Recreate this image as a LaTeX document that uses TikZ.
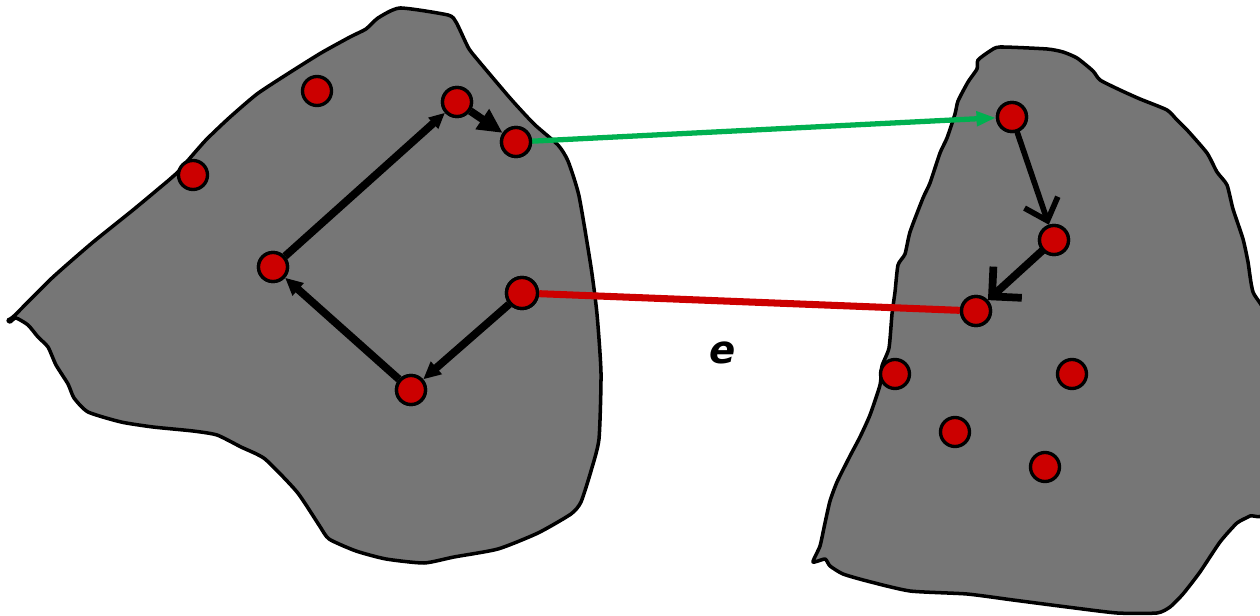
\documentclass[tikz,border=0pt]{standalone}
\usepackage{fontspec}
\newfontfamily\labelfont{DejaVu Sans}
\usetikzlibrary{arrows.meta}
\definecolor{blobgray}{RGB}{118,118,118}
\definecolor{nodered}{RGB}{204,0,0}
\definecolor{linkgreen}{RGB}{0,176,80}
\begin{document}
\begin{tikzpicture}[x=0.01cm,y=-0.01cm,
  blob/.style={fill=blobgray,draw=black,line width=1pt,line join=round},
  pt/.style={circle,fill=nodered,draw=black,line width=0.95pt,minimum size=0.29cm,inner sep=0pt},
  walk/.style={draw=black,line width=2.2pt},
  barb/.style={draw=black,line width=1.6pt,line cap=round},
]
\useasboundingbox (0,0) rectangle (1260,616);
\clip (0,0) rectangle (1260,616);
% left blob
\path[blob] plot[smooth cycle,tension=0.35] coordinates {
 (8,320) (14,316) (52,278) (92,243) (133,210) (169,180) (177,173) (205,141) (229,118)
 (257,94) (289,73) (321,53) (350,37) (366,29) (378,18) (400,8) (448,15) (456,22)
 (466,43) (472,53) (510,98) (534,124) (558,145) (568,161) (579,196) (591,267)
 (597,314) (601,373) (599,439) (591,471) (581,502) (571,514) (538,533) (498,549)
 (454,557) (424,563) (386,559) (356,551) (329,539) (319,525) (297,492) (265,459)
 (241,447) (217,435) (193,431) (153,427) (121,422) (88,412) (74,398) (68,384)
 (56,365) (48,347) (38,337) (28,325) (16,318) (10,322)};
% right blob
\path[blob] plot[smooth cycle,tension=0.35] coordinates {
 (813,562) (825,559) (830,566) (843,574) (867,581) (910,591) (967,594) (1013,600)
 (1067,607) (1117,613) (1157,613) (1170,607) (1183,594) (1200,572) (1220,542)
 (1237,523) (1250,516) (1268,505) (1270,330) (1253,292) (1248,262) (1243,239)
 (1233,209) (1227,185) (1217,172) (1207,153) (1188,131) (1177,120) (1167,110)
 (1140,99) (1120,90) (1100,80) (1093,71) (1077,58) (1063,52) (1047,49) (1000,47)
 (990,51) (978,60) (977,69) (968,82) (958,101) (955,114) (947,138) (940,153)
 (930,183) (923,198) (910,232) (905,254) (898,265) (895,292) (892,314) (889,348)
 (882,366) (880,385) (870,415) (860,437) (850,456) (837,482) (830,501) (825,523)
 (820,546)};
% nodes left
\node[pt] (A) at (317,91) {};
\node[pt] (B) at (193,175) {};
\node[pt] (C) at (457,102) {};
\node[pt] (D) at (516,142) {};
\node[pt] (E) at (273,267) {};
\node[pt,minimum size=0.31cm] (F) at (522,293) {};
\node[pt] (G) at (411,390) {};
% nodes right
\node[pt] (H) at (1012,117) {};
\node[pt] (I) at (1054,240) {};
\node[pt] (J) at (976,311) {};
\node[pt] (K) at (895,374) {};
\node[pt] (L) at (1072,374) {};
\node[pt] (M) at (955,432) {};
\node[pt] (N) at (1045,467) {};
% links between blobs
\draw[linkgreen,line width=1.5pt,-{Triangle[length=5.5pt,width=4pt]}] (D) -- (H);
\draw[nodered,line width=2pt] (F) -- (J);
% walk in left blob
\draw[walk,-{Triangle[length=4.5pt,width=4pt]}] (E) -- (C);
\draw[walk,-{Triangle[length=7pt,width=6.5pt]}] (C) -- (D);
\draw[walk,-{Triangle[length=5pt,width=4.5pt]}] (F) -- (G);
\draw[walk,-{Triangle[length=5pt,width=4.5pt]}] (G) -- (E);
% walk in right blob
\draw[barb,-{Straight Barb[length=5.5pt,width=10pt]}] (H) -- (I);
\draw[barb,line width=2.2pt,-{Straight Barb[length=6pt,width=12pt]}] (I) -- (J);
% redraw nodes on top
\foreach \p in {(457,102),(516,142),(273,267),(411,390),(1012,117),(1054,240),(976,311)}
  \node[pt] at \p {};
\node[pt,minimum size=0.31cm] at (522,293) {};
% label
\node (lbl) at (723,353) {\labelfont\bfseries\itshape\fontsize{11}{13}\selectfont e};
\end{tikzpicture}
\end{document}
